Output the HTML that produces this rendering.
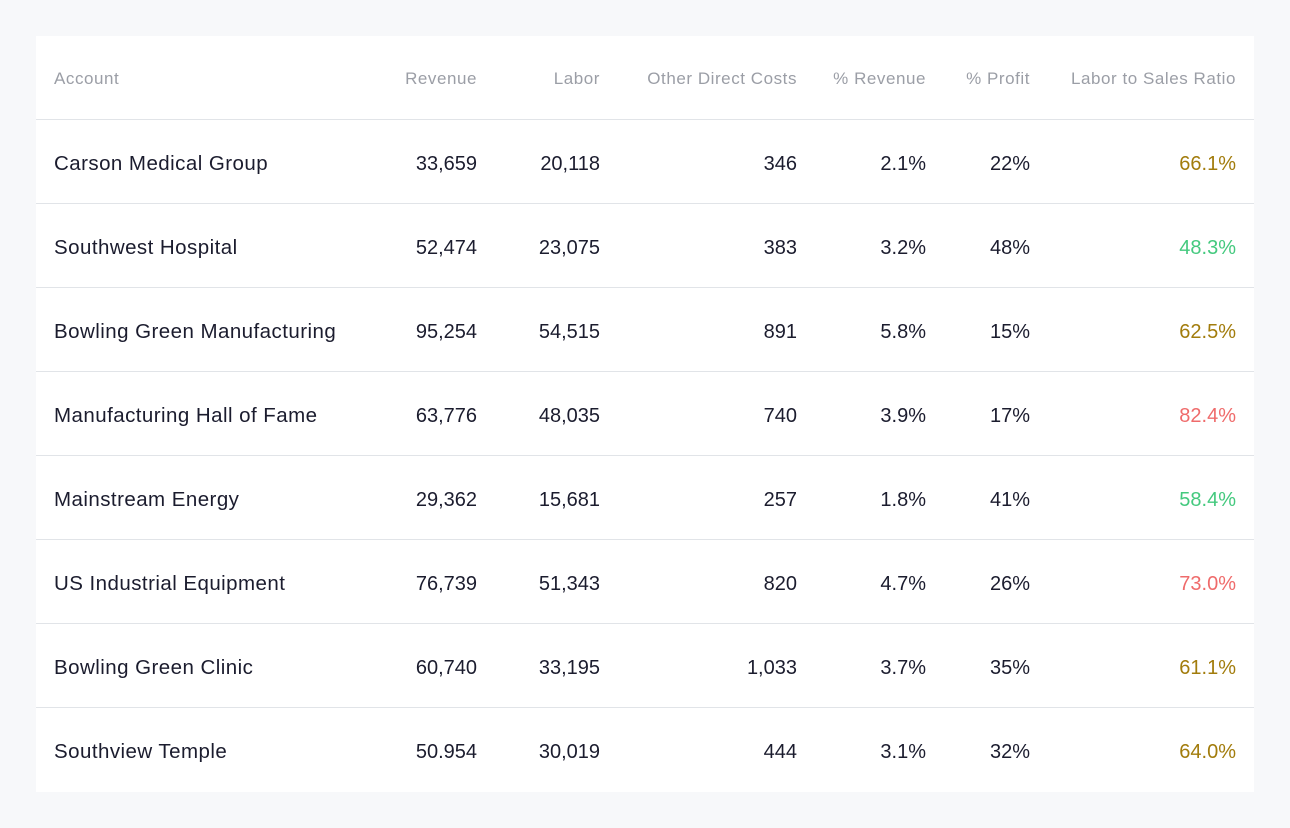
<!DOCTYPE html>
<html><head><meta charset="utf-8"><style>
body{margin:0;width:1290px;height:828px;background:#f7f8fa;font-family:"Liberation Sans",sans-serif;position:relative;overflow:hidden}
.card{position:absolute;left:36px;top:36px;width:1218px;height:756px;background:#fff}
.row{position:absolute;left:0;width:1218px;height:84px}
.row.b{border-top:1px solid #e1e4e8}
.c{position:absolute;top:2px;line-height:84px;white-space:nowrap;font-size:20.5px;color:#1b1c2e;letter-spacing:0.45px}
.h .c{font-size:17px;color:#9b9ea6;line-height:82px;letter-spacing:0.55px}
.r{text-align:right}
</style></head><body>
<div class="card" id="card"></div>
<script>
const headers=["Account","Revenue","Labor","Other Direct Costs","% Revenue","% Profit","Labor to Sales Ratio"];
const accounts=["Carson Medical Group","Southwest Hospital","Bowling Green Manufacturing","Manufacturing Hall of Fame","Mainstream Energy","US Industrial Equipment","Bowling Green Clinic","Southview Temple"];
const revenue=["33,659","52,474","95,254","63,776","29,362","76,739","60,740","50.954"];
const labor=["20,118","23,075","54,515","48,035","15,681","51,343","33,195","30,019"];
const odc=["346","383","891","740","257","820","1,033","444"];
const pctRevenue=["2.1%","3.2%","5.8%","3.9%","1.8%","4.7%","3.7%","3.1%"];
const pctProfit=["22%","48%","15%","17%","41%","26%","35%","32%"];
const ratio=["66.1%","48.3%","62.5%","82.4%","58.4%","73.0%","61.1%","64.0%"];
const ratioColor=["#a27c0c","#44c97e","#a27c0c","#ef6b6b","#44c97e","#ef6b6b","#a27c0c","#a27c0c"];
const rights=[null,441,564,761,890,994,1200];
const names=["account","revenue","labor","other-direct-costs","pct-revenue","pct-profit","labor-sales-ratio"];
const card=document.getElementById('card');
function cell(row,i,text,color,isHeader){
  const d=document.createElement('div');
  d.className='c'+(i?' r':'');
  if(i===0){d.style.left='18px';}else{d.style.right=(1218-rights[i])+'px';}
  if(i>0 && !isHeader){d.style.letterSpacing='0px';d.style.fontSize='20px';}
  d.textContent=text;
  if(color)d.style.color=color;
  
  
  row.appendChild(d);
}
const h=document.createElement('div');h.className='row h';h.style.top='0px';h.style.height='83px';


headers.forEach((t,i)=>cell(h,i,t,null,true));card.appendChild(h);
accounts.forEach((a,k)=>{
  const r=document.createElement('div');r.className='row b';r.style.top=(83+k*84)+'px';
  
  
  [a,revenue[k],labor[k],odc[k],pctRevenue[k],pctProfit[k],ratio[k]].forEach((t,i)=>cell(r,i,t,i===6?ratioColor[k]:null,false));
  card.appendChild(r);
});
</script>
</body></html>
